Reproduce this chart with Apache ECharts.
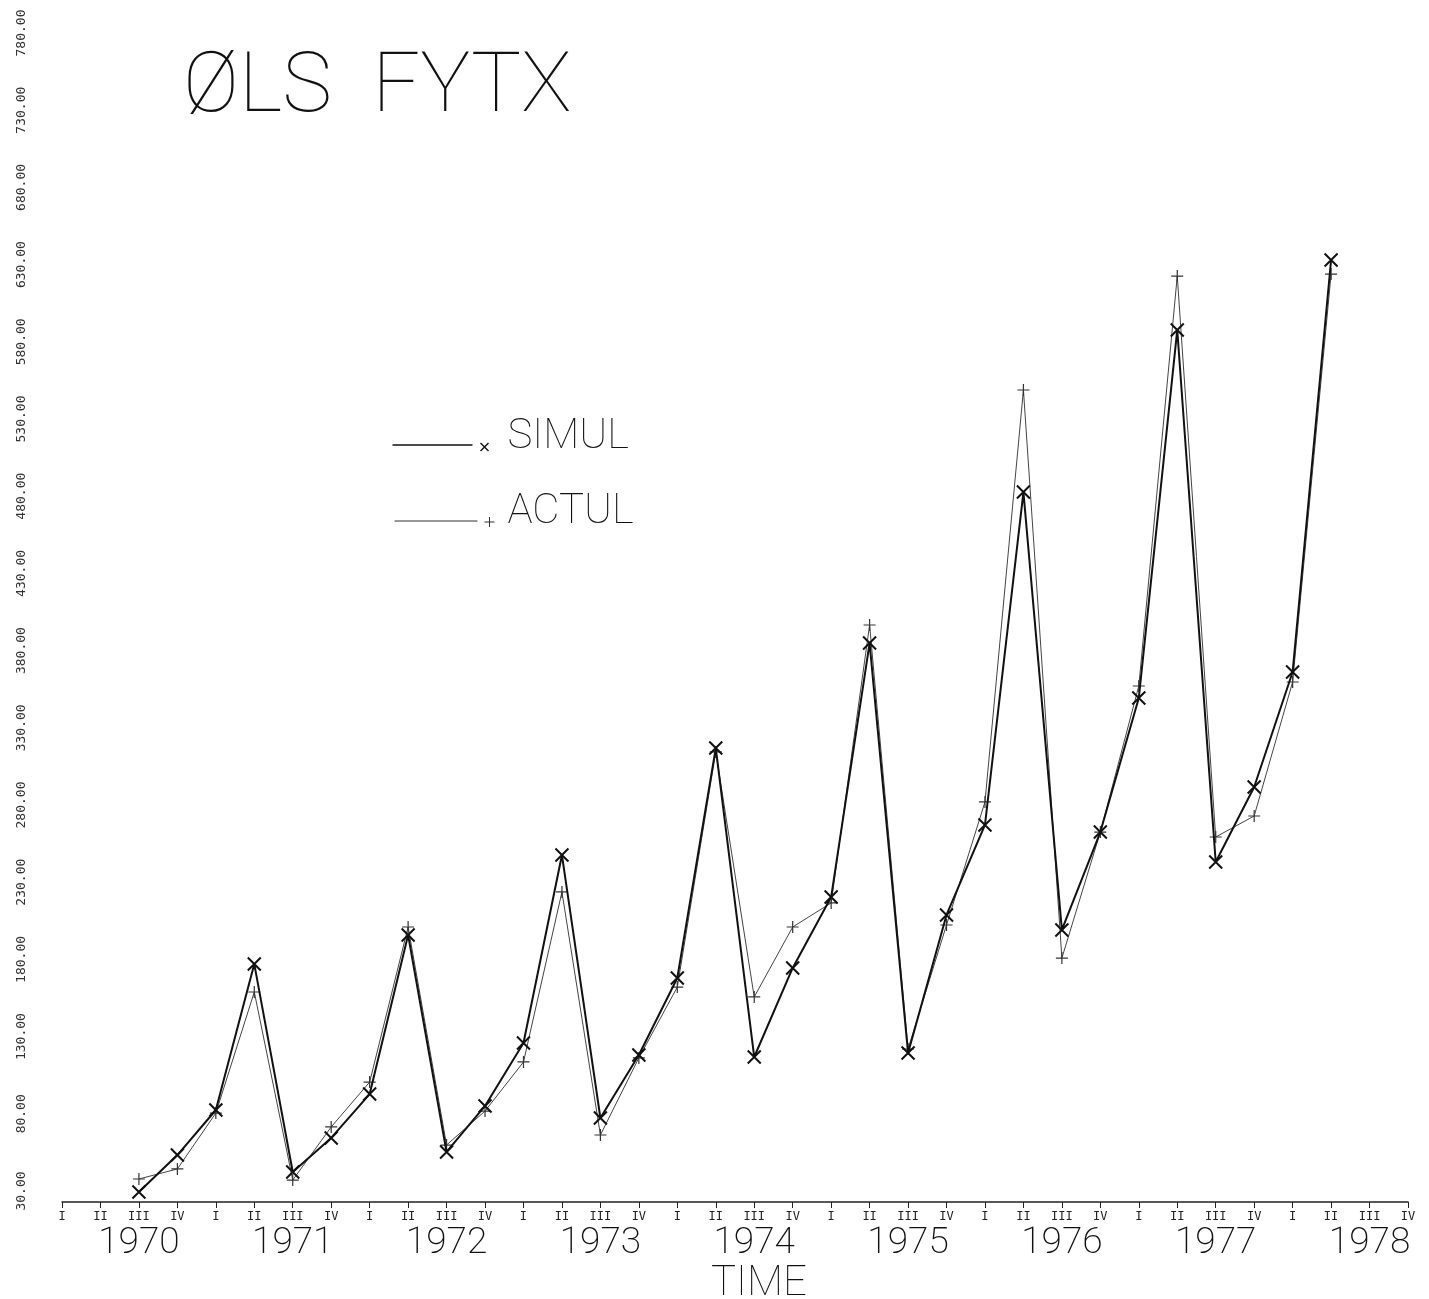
<!DOCTYPE html>
<html>
<head>
<meta charset="utf-8">
<title>OLS FYTX</title>
<script src="https://cdn.jsdelivr.net/npm/echarts@6/dist/echarts.min.js"></script>
<style>
  html, body { margin: 0; padding: 0; background: #fff; }
  #chart { width: 1429px; height: 1299px; }
</style>
</head>
<body>
<div id="chart"></div>
<script>
const chart = echarts.init(document.getElementById("chart"));

// ---- data (quarterly, 1970 III .. 1978 II) ----
const QUARTER_NAMES = ["I", "II", "III", "IV"];
const FIRST_YEAR = 1970;
const FIRST_OBS = 2;   // first observation sits on 1970 III

const simul = [
  36.5, 60.4, 89.6, 184.1, 49.4, 71.5, 99.9, 202.9,
  62.4, 92.2, 133.0, 254.7, 84.4, 125.2, 175.1, 324.0,
  123.9, 181.6, 227.5, 392.0, 126.5, 215.9, 274.2, 489.8,
  206.2, 269.6, 356.4, 594.8, 250.2, 298.8, 373.3, 640.1
];

const actul = [
  44.9, 51.4, 87.6, 166.0, 44.2, 78.6, 107.7, 208.1,
  66.9, 88.9, 120.7, 230.8, 73.4, 123.3, 169.2, 321.5,
  162.8, 208.1, 223.7, 403.7, 129.1, 209.4, 289.1, 555.9,
  188.0, 269.6, 364.2, 629.7, 266.4, 280.0, 366.8, 631.0
];

const FONT = "Roboto";
const MONO = "DejaVu Sans Mono";

const crossPath = "path://M0,0L10,10M10,0L0,10";
const plusPath = "path://M5,0L5,10M0,5L10,5";

function toPoints(values) {
  return values.map((v, i) => [FIRST_OBS + i, v]);
}

chart.setOption({
  animation: false,
  backgroundColor: "#fff",

  title: {
    text: "ØLS  FYTX",
    left: 183,
    top: 48,
    padding: 0,
    textStyle: {
      fontFamily: FONT,
      fontWeight: 100,
      fontSize: 84,
      lineHeight: 84,
      color: "#111"
    }
  },

  legend: {
    orient: "vertical",
    left: 390,
    top: 416,
    padding: 0,
    itemWidth: 110,
    itemHeight: 30,
    itemGap: 33,
    textStyle: {
      fontFamily: FONT,
      fontWeight: 100,
      fontSize: 42,
      lineHeight: 30,
      color: "#111"
    },
    data: [
      {
        name: "SIMUL",
        icon: "path://M0,0L0,0M0,23L80,23M88,21L96,29M96,21L88,29M110,30L110,30",
        itemStyle: { color: "none", borderColor: "#111", borderWidth: 1.4 }
      },
      {
        name: "ACTUL",
        icon: "path://M0,0L0,0M2,24L85,24M97,20L97,30M92,25L102,25M110,30L110,30",
        itemStyle: { color: "none", borderColor: "#333", borderWidth: 1 }
      }
    ]
  },

  grid: {
    left: 62,
    right: 21,
    top: 44,
    bottom: 97,
    containLabel: false,
    outerBoundsMode: "none"
  },

  xAxis: [
    {
      // quarters
      type: "value",
      min: 0,
      max: 35,
      interval: 1,
      name: "TIME",
      nameLocation: "middle",
      nameGap: 61,
      nameTextStyle: {
        fontFamily: FONT,
        fontWeight: 100,
        fontSize: 42,
        color: "#111",
        padding: [0, 0, 0, 48]
      },
      axisLine: { lineStyle: { color: "#222", width: 1.5 } },
      axisTick: { length: 6, lineStyle: { color: "#222" } },
      splitLine: { show: false },
      axisLabel: {
        margin: 9,
        showMinLabel: true,
        showMaxLabel: true,
        fontFamily: MONO,
        fontSize: 12,
        color: "#222",
        formatter: (v) => QUARTER_NAMES[v % 4]
      }
    },
    {
      // years, labelled under quarter III
      type: "value",
      position: "bottom",
      min: 0,
      max: 35,
      interval: 1,
      axisLine: { show: false },
      axisTick: { show: false },
      splitLine: { show: false },
      axisLabel: {
        margin: 25,
        showMinLabel: false,
        showMaxLabel: false,
        fontFamily: FONT,
        fontWeight: 200,
        fontSize: 37,
        lineHeight: 34,
        color: "#111",
        formatter: (v) => (v % 4 === 2 ? String(FIRST_YEAR + Math.floor(v / 4)) : "")
      }
    }
  ],

  yAxis: {
    type: "value",
    min: 30,
    max: 780,
    interval: 50,
    name: "DOLLARS MILLION",
    nameLocation: "middle",
    nameGap: 20,
    nameRotate: 90,
    nameTextStyle: {
      fontFamily: FONT,
      fontWeight: 100,
      fontSize: 40,
      color: "#111",
      padding: [0, 364, 0, 0]
    },
    axisLine: { show: false },
    axisTick: { show: false },
    splitLine: { show: false },
    axisLabel: {
      rotate: 90,
      margin: 40,
      align: "center",
      verticalAlign: "middle",
      padding: [0, 0, 0, 22],
      fontFamily: MONO,
      fontSize: 13,
      color: "#333",
      formatter: (v) => v.toFixed(2)
    }
  },

  series: [
    {
      name: "ACTUL",
      type: "line",
      data: toPoints(actul),
      symbol: plusPath,
      symbolSize: 12,
      lineStyle: { color: "#444", width: 1 },
      itemStyle: { color: "none", borderColor: "#333", borderWidth: 1.2 },
      z: 2
    },
    {
      name: "SIMUL",
      type: "line",
      data: toPoints(simul),
      symbol: crossPath,
      symbolSize: 13,
      lineStyle: { color: "#111", width: 2 },
      itemStyle: { color: "none", borderColor: "#111", borderWidth: 2 },
      z: 3
    }
  ]
});
</script>
</body>
</html>
